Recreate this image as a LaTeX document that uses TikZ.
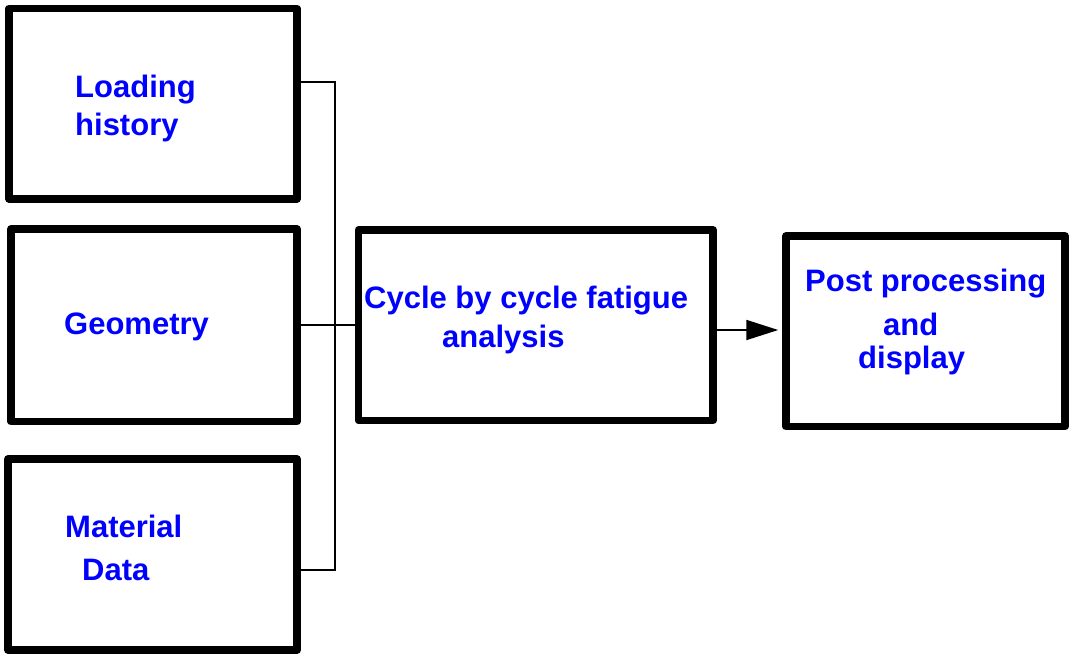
\documentclass[tikz,border=0pt]{standalone}
\usepackage{fontspec}
\setmainfont{Liberation Sans}
\usetikzlibrary{arrows.meta}
\tikzset{
  blockbox/.style={draw=black, line width=7.5pt, line join=round, rectangle, inner sep=0pt, fill=none},
  lbl/.style={anchor=base west, inner sep=0pt, text=lblblue, font=\fontsize{31}{37}\selectfont\bfseries},
  thinline/.style={draw=black, line width=1.8pt},
  arrowline/.style={draw=black, line width=1.8pt, -{Triangle[length=32pt,width=20pt]}, shorten >=4pt}
}
\definecolor{lblblue}{RGB}{0,0,255}
\begin{document}
\begin{tikzpicture}[x=1pt,y=-1pt]
\useasboundingbox (0,0) rectangle (1080,657);
\fill[white] (0,0) rectangle (1080,657);
% boxes
\node[blockbox, minimum width=288pt, minimum height=190.5pt] (load) at (153,103.75) {};
\node[blockbox, minimum width=286pt, minimum height=192.5pt] (geom) at (154,325.25) {};
\node[blockbox, minimum width=289pt, minimum height=191pt] (mat) at (152.5,554.5) {};
\node[blockbox, minimum width=354.5pt, minimum height=190.5pt] (cyc) at (535.75,325.25) {};
\node[blockbox, minimum width=279pt, minimum height=190.5pt] (post) at (925.5,331.25) {};
% labels
\node[lbl] (t1) at (75,97) {Loading};
\node[lbl] (t2) at (75,135) {history};
\node[lbl] (t3) at (64,334) {Geometry};
\node[lbl] (t4) at (65,537) {Material};
\node[lbl] (t5) at (82,580) {Data};
\node[lbl] (t6) at (364,308) {Cycle by cycle fatigue};
\node[lbl] (t7) at (442,347) {analysis};
\node[lbl] (t8) at (805,291) {Post processing};
\node[lbl] (t9) at (883,335) {and};
\node[lbl] (t10) at (858,368) {display};
% connectors
\coordinate (bt) at (335,82);
\coordinate (bb) at (335,570);
\coordinate (arr) at (0,330);
\draw[thinline] (load.east |- bt) -- (bt) -- (bb) -- (mat.east |- bb);
\draw[thinline] (geom.east) -- (cyc.west);
\draw[arrowline] (cyc.east |- arr) -- (post.west |- arr);
\end{tikzpicture}
\end{document}
